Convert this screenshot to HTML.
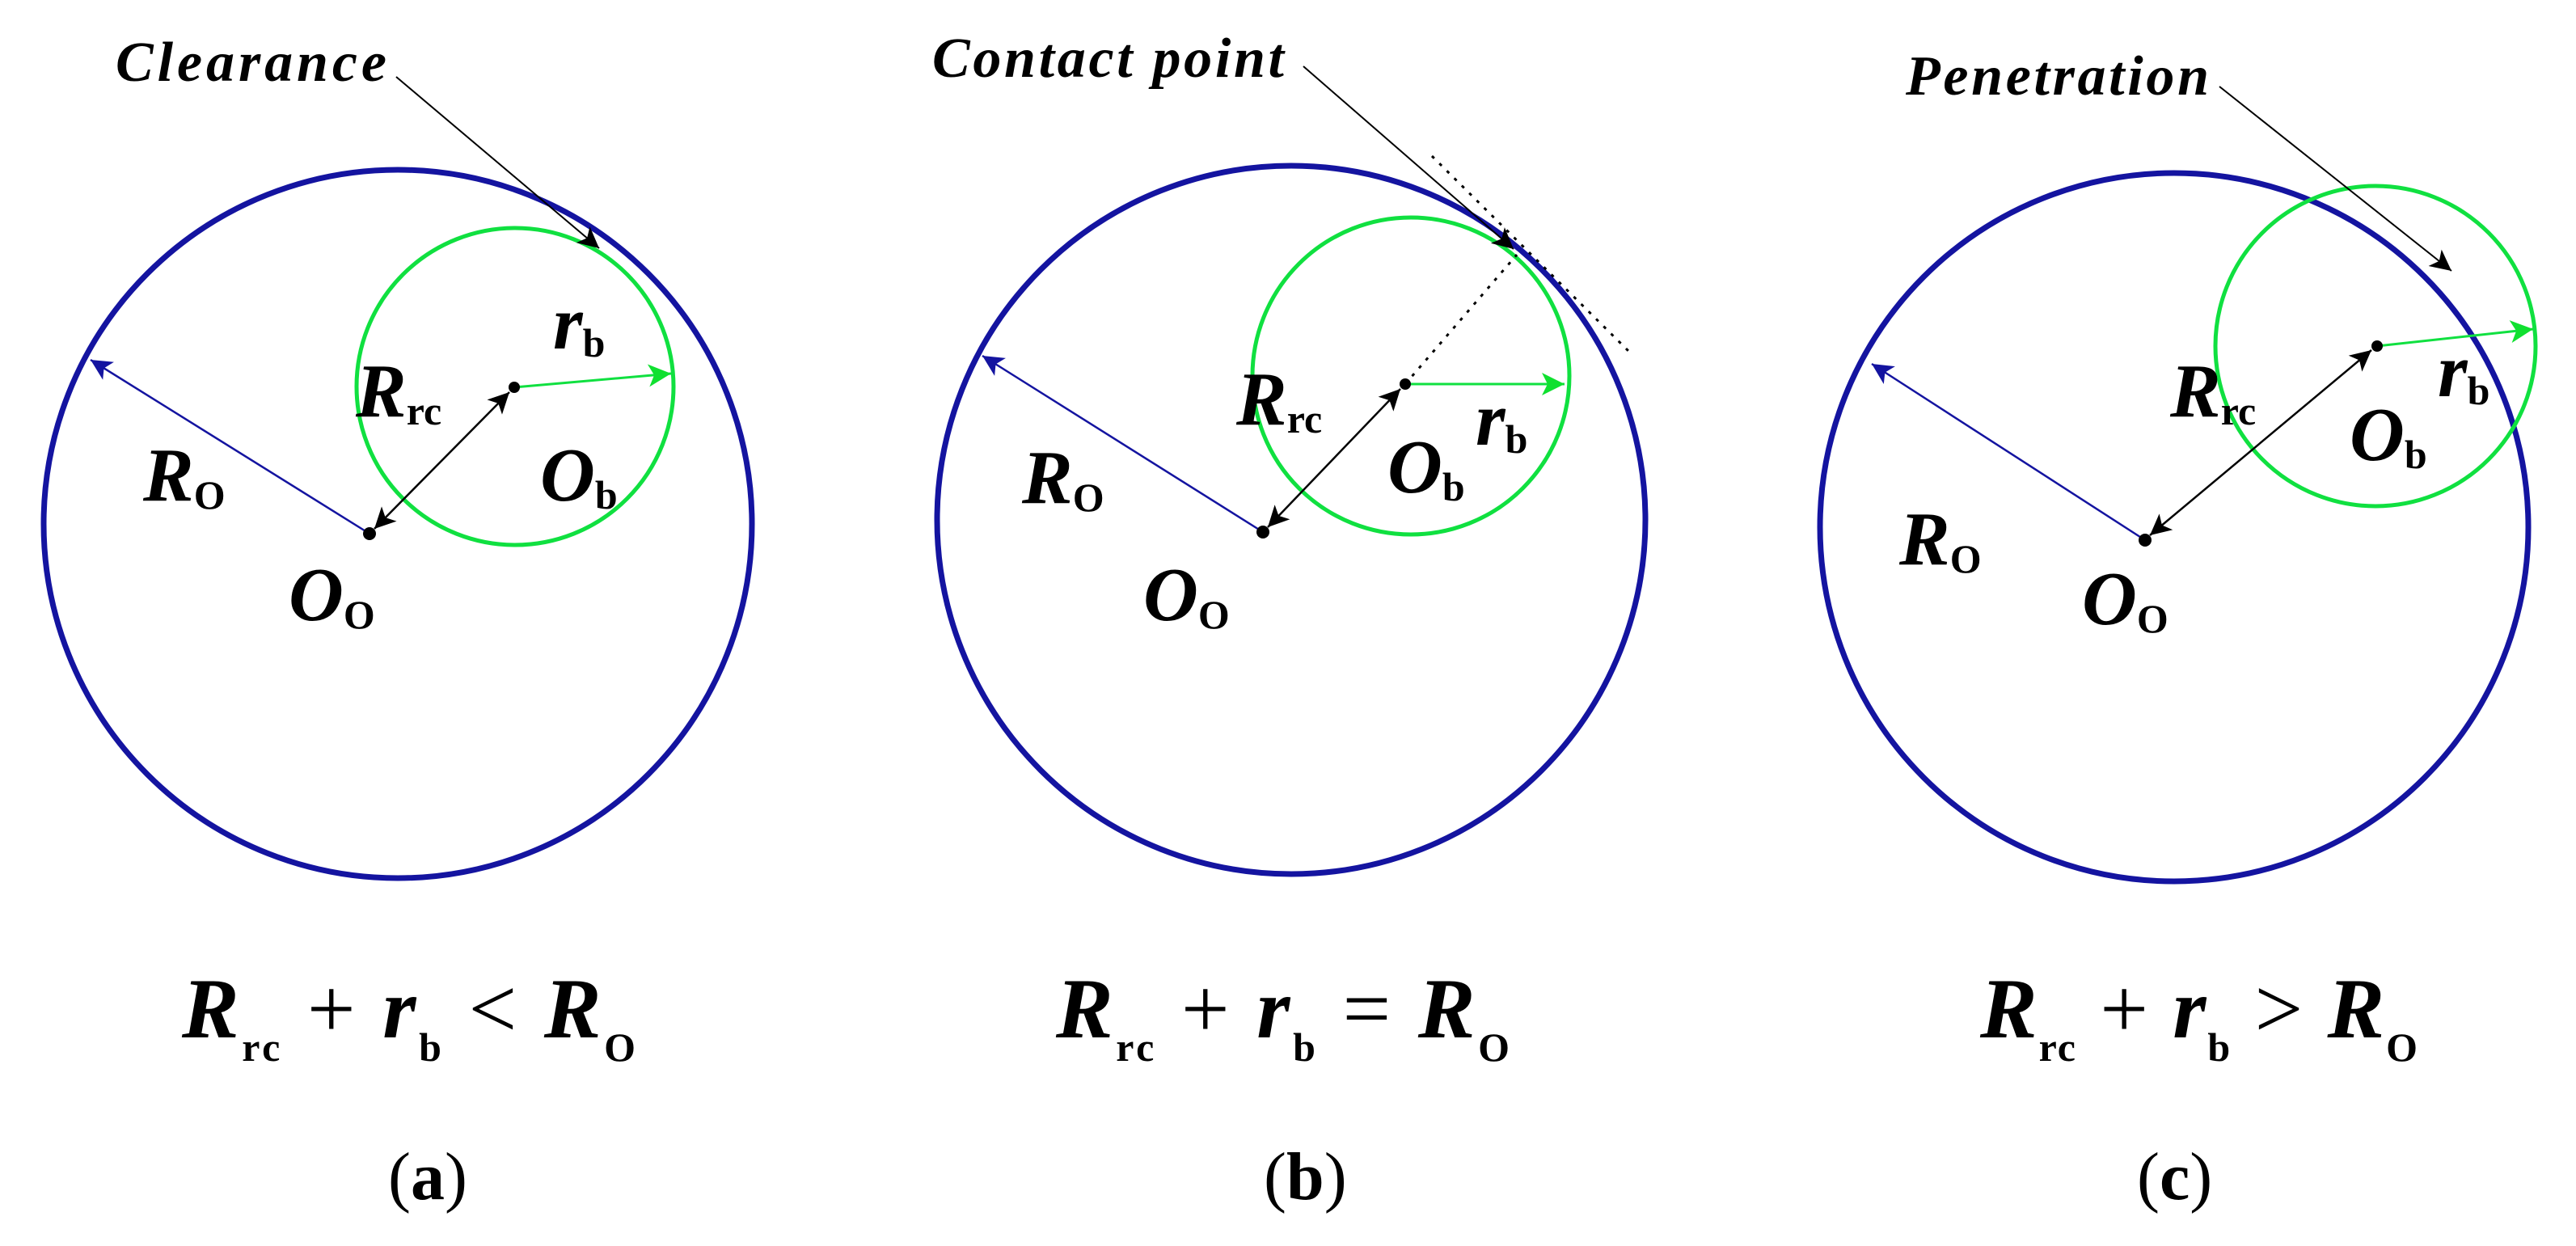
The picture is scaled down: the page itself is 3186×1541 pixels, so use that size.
<!DOCTYPE html>
<html><head><meta charset="utf-8"><style>
html,body{margin:0;padding:0;background:#fff;}
svg{display:block;}
.s{font-family:"Liberation Serif",serif;font-weight:bold;font-style:italic;font-size:94px;fill:#000;}
.sub{font-family:"Liberation Serif",serif;font-weight:bold;font-style:normal;font-size:50px;}
.eq{font-family:"Liberation Serif",serif;font-weight:bold;font-style:italic;font-size:106px;fill:#000;}
.esub{font-family:"Liberation Serif",serif;font-weight:bold;font-style:normal;font-size:50px;}
.lbl{font-family:"Liberation Serif",serif;font-weight:bold;font-style:italic;font-size:70px;fill:#000;}
.op{font-family:"Liberation Serif",serif;font-weight:normal;font-style:normal;}
.cap{font-family:"Liberation Serif",serif;font-size:84px;fill:#000;}
</style></head><body>
<svg width="3186" height="1541" viewBox="0 0 3186 1541" xmlns="http://www.w3.org/2000/svg">
<defs>
<marker id="ab" viewBox="0 0 10 10" refX="10" refY="5" markerWidth="40" markerHeight="26" markerUnits="userSpaceOnUse" orient="auto-start-reverse"><path d="M0,0 L10,5 L0,10 L2.5,5 z" fill="#000"/></marker>
<marker id="abl" viewBox="0 0 10 10" refX="10" refY="5" markerWidth="40" markerHeight="26" markerUnits="userSpaceOnUse" orient="auto"><path d="M0,0 L10,5 L0,10 L2.5,5 z" fill="#1414a0"/></marker>
<marker id="ag" viewBox="0 0 10 10" refX="10" refY="5" markerWidth="44" markerHeight="28" markerUnits="userSpaceOnUse" orient="auto"><path d="M0,0 L10,5 L0,10 L2.5,5 z" fill="#10e030"/></marker>
</defs>

<!-- Panel a -->
<circle cx="492" cy="648" r="438" fill="none" stroke="#1414a0" stroke-width="7"/>
<circle cx="637" cy="478" r="196" fill="none" stroke="#10e040" stroke-width="5"/>
<line x1="457" y1="660" x2="112" y2="445" stroke="#1414a0" stroke-width="2.5" marker-end="url(#abl)"/>
<line x1="636" y1="479" x2="830" y2="462" stroke="#10e040" stroke-width="3" marker-end="url(#ag)"/>
<line x1="463" y1="654" x2="630" y2="485" stroke="#000" stroke-width="2.5" marker-start="url(#ab)" marker-end="url(#ab)"/>
<circle cx="457" cy="660" r="8" fill="#000"/>
<circle cx="636" cy="479" r="7" fill="#000"/>
<line x1="490" y1="95" x2="741" y2="307" stroke="#000" stroke-width="2" marker-end="url(#ab)"/>
<text class="lbl" x="143" y="100" textLength="335">Clearance</text>
<text class="s" x="440" y="515">R<tspan class="sub" dy="10">rc</tspan></text>
<text class="s" x="684" y="431">r<tspan class="sub" dy="10">b</tspan></text>
<text class="s" x="668" y="619">O<tspan class="sub" dy="10">b</tspan></text>
<text class="s" x="177" y="619">R<tspan class="sub" dy="10">O</tspan></text>
<text class="s" x="357" y="767">O<tspan class="sub" dy="10">O</tspan></text>
<text class="eq" x="225" y="1283" textLength="561">R<tspan class="esub" dy="29">rc</tspan><tspan class="op" dy="-29"> + </tspan>r<tspan class="esub" dy="29">b</tspan><tspan class="op" dy="-29"> &lt; </tspan>R<tspan class="esub" dy="29">O</tspan></text>
<text class="cap" x="480" y="1483">(<tspan font-weight="bold">a</tspan>)</text>

<!-- Panel b -->
<circle cx="1597" cy="643" r="438" fill="none" stroke="#1414a0" stroke-width="7"/>
<circle cx="1745" cy="465" r="196" fill="none" stroke="#10e040" stroke-width="5"/>
<line x1="1562" y1="658" x2="1215" y2="440" stroke="#1414a0" stroke-width="2.5" marker-end="url(#abl)"/>
<line x1="1738" y1="475" x2="1935" y2="475" stroke="#10e040" stroke-width="3" marker-end="url(#ag)"/>
<line x1="1568" y1="652" x2="1732" y2="481" stroke="#000" stroke-width="2.5" marker-start="url(#ab)" marker-end="url(#ab)"/>
<circle cx="1562" cy="658" r="8" fill="#000"/>
<circle cx="1738" cy="475" r="7" fill="#000"/>
<line x1="1738" y1="475" x2="1876" y2="315" stroke="#000" stroke-width="3" stroke-dasharray="4,9"/>
<line x1="1771" y1="193" x2="2016" y2="436" stroke="#000" stroke-width="3" stroke-dasharray="4,9"/>
<line x1="1612" y1="82" x2="1872" y2="308" stroke="#000" stroke-width="2" marker-end="url(#ab)"/>
<text class="lbl" x="1153" y="95" textLength="435">Contact point</text>
<text class="s" x="1529" y="525">R<tspan class="sub" dy="10">rc</tspan></text>
<text class="s" x="1825" y="550">r<tspan class="sub" dy="10">b</tspan></text>
<text class="s" x="1716" y="609">O<tspan class="sub" dy="10">b</tspan></text>
<text class="s" x="1264" y="622">R<tspan class="sub" dy="10">O</tspan></text>
<text class="s" x="1414" y="767">O<tspan class="sub" dy="10">O</tspan></text>
<text class="eq" x="1306" y="1283" textLength="561">R<tspan class="esub" dy="29">rc</tspan><tspan class="op" dy="-29"> + </tspan>r<tspan class="esub" dy="29">b</tspan><tspan class="op" dy="-29"> = </tspan>R<tspan class="esub" dy="29">O</tspan></text>
<text class="cap" x="1563" y="1483">(<tspan font-weight="bold">b</tspan>)</text>

<!-- Panel c -->
<circle cx="2689" cy="652" r="438" fill="none" stroke="#1414a0" stroke-width="7"/>
<circle cx="2938" cy="428" r="198" fill="none" stroke="#10e040" stroke-width="5"/>
<line x1="2653" y1="668" x2="2315" y2="450" stroke="#1414a0" stroke-width="2.5" marker-end="url(#abl)"/>
<line x1="2940" y1="428" x2="3133" y2="407" stroke="#10e040" stroke-width="3" marker-end="url(#ag)"/>
<line x1="2659" y1="662" x2="2933" y2="433" stroke="#000" stroke-width="2.5" marker-start="url(#ab)" marker-end="url(#ab)"/>
<circle cx="2653" cy="668" r="8" fill="#000"/>
<circle cx="2940" cy="428" r="7" fill="#000"/>
<line x1="2745" y1="107" x2="3032" y2="335" stroke="#000" stroke-width="2" marker-end="url(#ab)"/>
<text class="lbl" x="2357" y="117" textLength="375">Penetration</text>
<text class="s" x="2684" y="515">R<tspan class="sub" dy="10">rc</tspan></text>
<text class="s" x="3015" y="490">r<tspan class="sub" dy="10">b</tspan></text>
<text class="s" x="2906" y="569">O<tspan class="sub" dy="10">b</tspan></text>
<text class="s" x="2349" y="698">R<tspan class="sub" dy="10">O</tspan></text>
<text class="s" x="2575" y="772">O<tspan class="sub" dy="10">O</tspan></text>
<text class="eq" x="2449" y="1283" textLength="541">R<tspan class="esub" dy="29">rc</tspan><tspan class="op" dy="-29"> + </tspan>r<tspan class="esub" dy="29">b</tspan><tspan class="op" dy="-29"> &gt; </tspan>R<tspan class="esub" dy="29">O</tspan></text>
<text class="cap" x="2643" y="1483">(<tspan font-weight="bold">c</tspan>)</text>
</svg>
</body></html>
